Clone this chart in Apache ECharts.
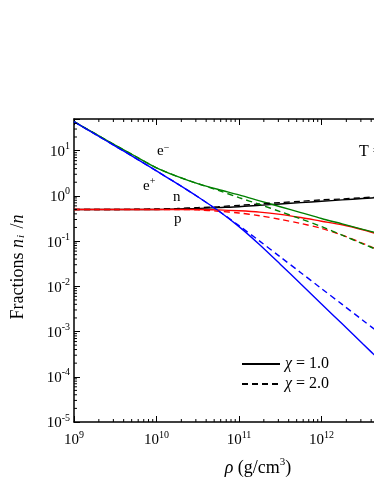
<!DOCTYPE html>
<html>
<head>
<meta charset="utf-8">
<script src="https://cdn.jsdelivr.net/npm/echarts@6.0.0/dist/echarts.min.js"></script>
<style>
  html, body { margin: 0; padding: 0; background: #fff; }
  #main { width: 374px; height: 484px; }
</style>
</head>
<body>
<div id="main"></div>
<script>
// density (g/cm^3)
var rho = [1e9, 1.78e9, 3.16e9, 5.62e9, 1e10, 1.78e10, 3.16e10, 5.62e10, 1e11, 1.78e11, 3.16e11, 5.62e11, 1e12, 1.78e12, 3.16e12, 5.62e12];

// fractions n_i/n, chi = 1.0 (solid) and chi = 2.0 (dashed)
var eMinus1 = [43.7, 24.0, 13.2, 7.41, 4.17, 2.69, 1.86, 1.38, 1.05, 0.776, 0.575, 0.427, 0.316, 0.240, 0.182, 0.138];
var eMinus2 = [43.7, 24.0, 13.2, 7.41, 4.17, 2.69, 1.86, 1.32, 0.912, 0.646, 0.447, 0.309, 0.209, 0.135, 0.0871, 0.0562];
var ePlus1  = [43.7, 23.4, 12.6, 6.76, 3.55, 1.86, 0.955, 0.468, 0.209, 0.0832, 0.0309, 0.0112, 0.00407, 0.00148, 5.37e-4, 1.95e-4];
var ePlus2  = [43.7, 23.4, 12.6, 6.76, 3.55, 1.86, 0.955, 0.468, 0.219, 0.100, 0.0447, 0.0200, 0.00891, 0.00398, 0.00178, 7.94e-4];
var neut1   = [0.5, 0.5, 0.5, 0.5, 0.5, 0.513, 0.525, 0.55, 0.575, 0.617, 0.661, 0.708, 0.759, 0.813, 0.871, 0.933];
var neut2   = [0.5, 0.5, 0.5, 0.505, 0.513, 0.525, 0.55, 0.575, 0.617, 0.661, 0.708, 0.759, 0.813, 0.851, 0.912, 0.955];
var prot1   = [0.5, 0.5, 0.5, 0.5, 0.5, 0.5, 0.5, 0.49, 0.468, 0.437, 0.389, 0.331, 0.275, 0.229, 0.178, 0.132];
var prot2   = [0.5, 0.5, 0.5, 0.5, 0.5, 0.5, 0.49, 0.457, 0.417, 0.363, 0.302, 0.245, 0.191, 0.135, 0.0891, 0.0575];

// axis ranges and log minor ticks
var xMin = 1e9, xMax = 1e13;
var yMin = 1e-5, yMax = 50;
var minorX = [];
for (var d = 9; d < 13; d++) {
    for (var m = 2; m <= 9; m++) minorX.push([m * Math.pow(10, d), 1]);
}
var minorY = [];
for (var d2 = -5; d2 < 2; d2++) {
    for (var m2 = 2; m2 <= 9; m2++) {
        var v = m2 * Math.pow(10, d2);
        if (v < yMax) minorY.push([1e10, v]);
    }
}

var serif = 'Liberation Serif';

function pow10Label(value) {
    var e = Math.log10(value);
    var r = Math.round(e);
    if (Math.abs(e - r) > 1e-6) return '';
    return '{b|10}{s|' + r + '}';
}
var tickRich = {
    b: { fontFamily: serif, fontSize: 15, color: '#000', verticalAlign: 'bottom', lineHeight: 18 },
    s: { fontFamily: serif, fontSize: 10, color: '#000', verticalAlign: 'bottom', lineHeight: 18, padding: [0, 0, 8, 0] }
};

function pairs(ys) {
    var out = [];
    for (var i = 0; i < rho.length; i++) out.push([rho[i], ys[i]]);
    return out;
}

function curve(name, ys, color, dashed) {
    return {
        name: name,
        type: 'line',
        data: pairs(ys),
        symbol: 'none',
        smooth: 0.3,
        silent: true,
        lineStyle: { color: color, width: 1.4, type: dashed ? [6, 4] : 'solid' },
        z: dashed ? 3 : 2
    };
}

var myChart = echarts.init(document.getElementById('main'));

var option = {
    animation: false,
    backgroundColor: '#fff',
    grid: { left: 74, top: 119, width: 330, height: 303, containLabel: false, outerBoundsMode: 'none' },
    xAxis: [
        {
            type: 'log', min: xMin, max: xMax, logBase: 10,
            axisLine: { lineStyle: { color: '#000', width: 1.5 } },
            axisTick: { inside: true, length: 6, lineStyle: { color: '#000' } },
            axisLabel: { formatter: pow10Label, rich: tickRich, margin: 8 },
            splitLine: { show: false }
        },
        {
            type: 'log', min: xMin, max: xMax, position: 'top',
            axisLine: { lineStyle: { color: '#000', width: 1.5 } },
            axisTick: { inside: true, length: 6, lineStyle: { color: '#000' } },
            axisLabel: { show: false },
            splitLine: { show: false }
        }
    ],
    yAxis: [
        {
            type: 'log', min: yMin, max: yMax, logBase: 10,
            axisLine: { lineStyle: { color: '#000', width: 1.5 } },
            axisTick: { inside: true, length: 6, lineStyle: { color: '#000' } },
            axisLabel: { formatter: pow10Label, rich: tickRich, margin: 4 },
            splitLine: { show: false }
        }
    ],
    legend: {
        orient: 'vertical',
        left: 236,
        top: 351,
        itemWidth: 38,
        itemHeight: 12,
        itemGap: 4,
        itemStyle: { opacity: 0 },
        data: ['chi1', 'chi2'],
        formatter: function (n) {
            return n === 'chi1' ? '{i|\u03c7}{t| = 1.0}' : '{i|\u03c7}{t| = 2.0}';
        },
        textStyle: {
            rich: {
                i: { fontFamily: serif, fontStyle: 'italic', fontSize: 16, color: '#000' },
                t: { fontFamily: serif, fontSize: 16, color: '#000' }
            }
        }
    },
    series: [
        curve('n1', neut1, '#000000', false),
        curve('n2', neut2, '#000000', true),
        curve('p1', prot1, '#ff0000', false),
        curve('p2', prot2, '#ff0000', true),
        curve('em1', eMinus1, '#008000', false),
        curve('em2', eMinus2, '#008000', true),
        curve('ep1', ePlus1, '#0000ff', false),
        curve('ep2', ePlus2, '#0000ff', true),
        // legend-only entries
        { name: 'chi1', type: 'line', data: [], symbol: 'none', itemStyle: { color: '#000' }, lineStyle: { color: '#000', width: 1.4 } },
        { name: 'chi2', type: 'line', data: [], symbol: 'none', itemStyle: { color: '#000' }, lineStyle: { color: '#000', width: 1.4, type: [6, 4] } },
        // log minor ticks on bottom and top axes
        {
            type: 'custom', silent: true, clip: false, z: 10,
            data: minorX,
            renderItem: function (params, api) {
                var b = api.coord([api.value(0), yMin]);
                var t = api.coord([api.value(0), yMax]);
                return {
                    type: 'group', children: [
                        { type: 'line', shape: { x1: b[0], y1: b[1], x2: b[0], y2: b[1] - 3 }, style: { stroke: '#000', lineWidth: 1 } },
                        { type: 'line', shape: { x1: t[0], y1: t[1], x2: t[0], y2: t[1] + 3 }, style: { stroke: '#000', lineWidth: 1 } }
                    ]
                };
            }
        },
        // log minor ticks on left axis
        {
            type: 'custom', silent: true, clip: false, z: 10,
            data: minorY,
            renderItem: function (params, api) {
                var l = api.coord([xMin, api.value(1)]);
                return { type: 'line', shape: { x1: l[0], y1: l[1], x2: l[0] + 3, y2: l[1] }, style: { stroke: '#000', lineWidth: 1 } };
            }
        }
    ],
    graphic: [
        {
            type: 'text', left: 157, top: 143,
            style: { text: '{b|e}{s|\u2212}', rich: {
                b: { fontFamily: serif, fontSize: 15, fill: '#000', verticalAlign: 'bottom', lineHeight: 18 },
                s: { fontFamily: serif, fontSize: 10, fill: '#000', verticalAlign: 'bottom', lineHeight: 18, padding: [0, 0, 6, 0] } } }
        },
        {
            type: 'text', left: 143, top: 176,
            style: { text: '{b|e}{s|+}', rich: {
                b: { fontFamily: serif, fontSize: 15, fill: '#000', verticalAlign: 'bottom', lineHeight: 18 },
                s: { fontFamily: serif, fontSize: 10, fill: '#000', verticalAlign: 'bottom', lineHeight: 18, padding: [0, 0, 8, 0] } } }
        },
        { type: 'text', left: 173, top: 190, style: { text: 'n', fontFamily: serif, fontSize: 15, fill: '#000' } },
        { type: 'text', left: 174, top: 212, style: { text: 'p', fontFamily: serif, fontSize: 15, fill: '#000' } },
        { type: 'text', left: 359, top: 144, style: { text: 'T = ', fontFamily: serif, fontSize: 16, fill: '#000' } },
        {
            type: 'text', x: 16, y: 267, rotation: Math.PI / 2,
            style: {
                text: '{r|Fractions }{i|n}{sub|i}{r| /}{i|n}',
                align: 'center', verticalAlign: 'middle',
                rich: {
                    r: { fontFamily: serif, fontSize: 18, fill: '#000', verticalAlign: 'bottom', lineHeight: 22 },
                    i: { fontFamily: serif, fontSize: 18, fontStyle: 'italic', fill: '#000', verticalAlign: 'bottom', lineHeight: 22 },
                    sub: { fontFamily: serif, fontSize: 11, fontStyle: 'italic', fill: '#000', verticalAlign: 'bottom', lineHeight: 22, padding: [0, 2, 0, 1] }
                }
            }
        },
        {
            type: 'text', x: 258, y: 466,
            style: {
                text: '{i|\u03c1}{r| (g/cm}{s|3}{r|)}',
                align: 'center', verticalAlign: 'middle',
                rich: {
                    r: { fontFamily: serif, fontSize: 18, fill: '#000', verticalAlign: 'bottom', lineHeight: 22 },
                    i: { fontFamily: serif, fontSize: 18, fontStyle: 'italic', fill: '#000', verticalAlign: 'bottom', lineHeight: 22 },
                    s: { fontFamily: serif, fontSize: 11, fill: '#000', verticalAlign: 'bottom', lineHeight: 22, padding: [0, 0, 9, 0] }
                }
            }
        }
    ]
};

myChart.setOption(option);
</script>
</body>
</html>
